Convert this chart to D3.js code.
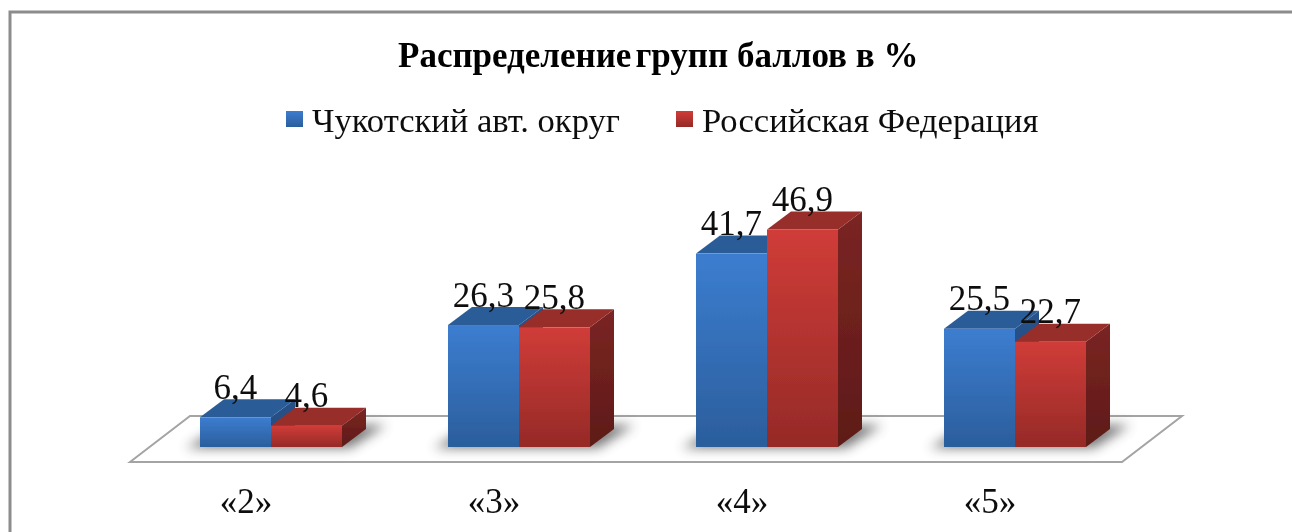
<!DOCTYPE html>
<html>
<head>
<meta charset="utf-8">
<script src="https://cdn.jsdelivr.net/npm/d3@7"></script>
<style>
  html, body { margin: 0; padding: 0; background: #fff; }
  svg { display: block; font-family: "Liberation Serif", serif; }
</style>
</head>
<body>
<svg id="chart" width="1292" height="532"></svg>
<script>
const SVG_WIDTH = 1292;
const SVG_HEIGHT = 532;
const BASE_Y = 447;
const DEPTH_X = 24;
const DEPTH_Y = -18;
const FLOOR_MARGIN_Y = 15;

const titleWords = ["Распределение", "групп баллов в %"];
const categories = ["«2»", "«3»", "«4»", "«5»"];
const seriesNames = ["Чукотский авт. округ", "Российская Федерация"];
const chukotkaValues = [6.4, 26.3, 41.7, 25.5];
const russiaValues = [4.6, 25.8, 46.9, 22.7];
const seriesValues = [chukotkaValues, russiaValues];

const seriesColors = [
  { top: "#2c5d98", side: "#27528a", light: "#3c7dd0", dark: "#2b5e9c" },
  { top: "#972d2a", side: "#7b2522", light: "#d03c38", dark: "#952a27" },
];
const sideBottoms = ["#234a7c", "#5e1a18"];

const svg = d3.select("#chart");
const defs = svg.append("defs");

seriesColors.forEach((c, i) => {
  const front = defs.append("linearGradient").attr("id", `front-${i}`)
    .attr("x1", 0).attr("y1", 0).attr("x2", 0).attr("y2", 1);
  front.append("stop").attr("offset", 0).attr("stop-color", c.light);
  front.append("stop").attr("offset", 1).attr("stop-color", c.dark);
  const side = defs.append("linearGradient").attr("id", `side-${i}`)
    .attr("x1", 0).attr("y1", 0).attr("x2", 0).attr("y2", 1);
  side.append("stop").attr("offset", 0).attr("stop-color", c.side);
  side.append("stop").attr("offset", 1).attr("stop-color", sideBottoms[i]);
});
defs.append("filter").attr("id", "shadow-blur")
  .attr("x", "-30%").attr("y", "-100%").attr("width", "160%").attr("height", "300%")
  .append("feGaussianBlur").attr("stdDeviation", 6);
defs.append("filter").attr("id", "soft")
  .attr("filterUnits", "userSpaceOnUse")
  .attr("x", 0).attr("y", 0).attr("width", SVG_WIDTH).attr("height", SVG_HEIGHT)
  .append("feGaussianBlur").attr("stdDeviation", 0.45);

const x = d3.scaleBand().domain(categories).range([147, 1139])
  .paddingInner(0.4274).paddingOuter(0.2137);
const xSeries = d3.scaleBand().domain([0, 1]).range([0, x.bandwidth()]);
const y = d3.scaleLinear().domain([0, 46.9]).range([BASE_Y, 229.5]);

const root = svg.append("g").attr("filter", "url(#soft)");

// frame, only top and left are in the picture
root.append("path")
  .attr("d", `M10,${SVG_HEIGHT}V12H${SVG_WIDTH}`)
  .attr("fill", "none").attr("stroke", "#8c8c8c").attr("stroke-width", 3);

// floor
const floorFrontY = BASE_Y + FLOOR_MARGIN_Y;
const floorBackY = 416;
const floorLeft = x.range()[0] - 17;
const floorRight = x.range()[1] - 17;
const floorPts = [
  [floorLeft, floorFrontY],
  [floorLeft + 60, floorBackY],
  [floorRight + 60, floorBackY],
  [floorRight, floorFrontY],
];
root.append("path")
  .attr("d", d3.line()(floorPts) + "Z")
  .attr("fill", "#fff").attr("stroke", "#a4a4a4").attr("stroke-width", 2);

// shadows
root.append("g").selectAll("path").data(categories).join("path")
  .attr("filter", "url(#shadow-blur)")
  .attr("fill", "#444")
  .attr("opacity", 0.72)
  .attr("d", (d) => {
    const x0 = x(d), x1 = x(d) + x.bandwidth();
    return d3.line()([
      [x0 - 14, BASE_Y + 1],
      [x1 + 8, BASE_Y + 1],
      [x1 + DEPTH_X + 20, BASE_Y + DEPTH_Y - 4],
      [x0 + DEPTH_X, BASE_Y + DEPTH_Y - 4],
    ]) + "Z";
  });

// bars: blue first, red on top of it
const groups = root.append("g").selectAll("g").data(categories).join("g")
  .attr("transform", (d) => `translate(${x(d)},0)`);

const bars = groups.selectAll("g")
  .data((d, i) => seriesValues.map((values, s) => ({ s, value: values[i] })))
  .join("g");

bars.append("path")
  .attr("fill", (d) => `url(#side-${d.s})`)
  .attr("d", (d) => {
    const r = xSeries(d.s) + xSeries.bandwidth();
    return d3.line()([
      [r, y(d.value)],
      [r + DEPTH_X, y(d.value) + DEPTH_Y],
      [r + DEPTH_X, BASE_Y + DEPTH_Y],
      [r, BASE_Y],
    ]) + "Z";
  });
bars.append("path")
  .attr("fill", (d) => seriesColors[d.s].top)
  .attr("d", (d) => {
    const l = xSeries(d.s), r = l + xSeries.bandwidth();
    return d3.line()([
      [l, y(d.value)],
      [l + DEPTH_X, y(d.value) + DEPTH_Y],
      [r + DEPTH_X, y(d.value) + DEPTH_Y],
      [r, y(d.value)],
    ]) + "Z";
  });
bars.append("rect")
  .attr("x", (d) => xSeries(d.s))
  .attr("y", (d) => y(d.value))
  .attr("width", xSeries.bandwidth())
  .attr("height", (d) => BASE_Y - y(d.value))
  .attr("fill", (d) => `url(#front-${d.s})`);

// value labels
const formatValue = (v) => d3.format(".1f")(v).replace(".", ",");
groups.selectAll("text")
  .data((d, i) => seriesValues.map((values, s) => ({ s, value: values[i] })))
  .join("text")
  .attr("x", (d) => xSeries(d.s) + xSeries.bandwidth() / 2)
  .attr("y", (d) => y(d.value) - 18.5)
  .attr("text-anchor", "middle")
  .attr("font-size", 35)
  .attr("fill", "#111")
  .text((d) => formatValue(d.value));

// category labels
root.append("g").selectAll("text").data(categories).join("text")
  .attr("x", (d) => x(d) + x.bandwidth() / 2 - 25)
  .attr("y", 513)
  .attr("text-anchor", "middle")
  .attr("font-size", 35)
  .attr("fill", "#111")
  .text((d) => d);

// title, the gap after the first word is narrow in the picture
const title = root.append("text")
  .attr("x", 398).attr("y", 67)
  .attr("font-size", 35)
  .attr("font-weight", "bold")
  .attr("fill", "#000");
title.append("tspan").text(titleWords[0]);
title.append("tspan").attr("dx", 4).text(titleWords[1]);

// legend
const legendX = [286, 676];
const legend = root.append("g").selectAll("g").data(seriesNames).join("g")
  .attr("transform", (d, i) => `translate(${legendX[i]},0)`);
legend.append("rect")
  .attr("y", 111).attr("width", 17).attr("height", 16)
  .attr("fill", (d, i) => `url(#front-${i})`);
legend.append("text")
  .attr("x", 26).attr("y", 132)
  .attr("font-size", 34.6)
  .attr("fill", "#111")
  .text((d) => d);
</script>
</body>
</html>
